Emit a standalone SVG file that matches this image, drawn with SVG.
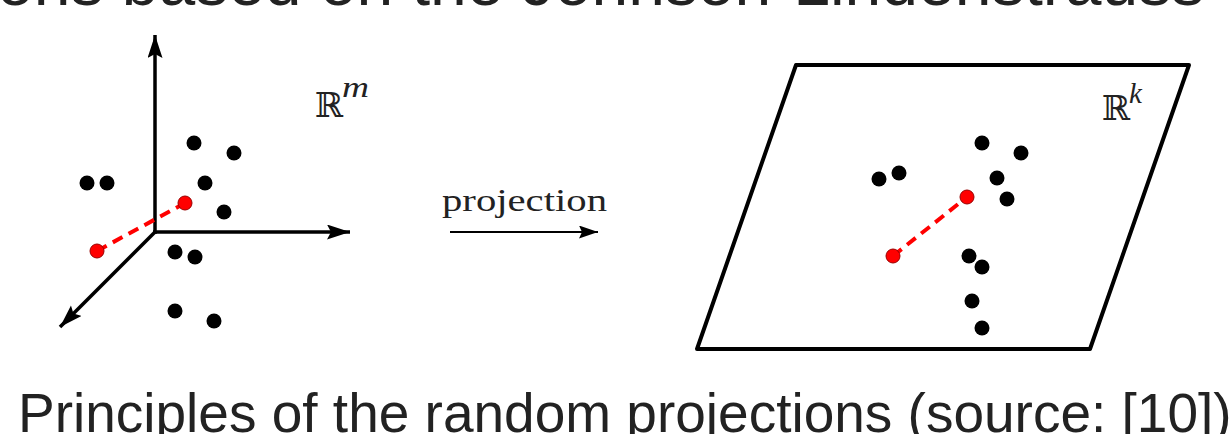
<svg xmlns="http://www.w3.org/2000/svg" width="1232" height="434" viewBox="0 0 1232 434">
  <style>
    .axis { stroke: #000; stroke-width: 3.5; fill: none; }
    .dot { fill: #000; }
    .red { fill: #f00; stroke: #900; stroke-width: 1; }
    .dash { stroke: #f00; stroke-width: 4; stroke-dasharray: 11 7; fill: none; }
    .bb { font-family: "DejaVu Serif", serif; fill: #222; }
    .sup { font-family: "Liberation Serif", "DejaVu Serif", serif; font-style: italic; fill: #222; }
    .caption { font-family: "Liberation Sans", Arial, sans-serif; fill: #222; }
  </style>
  <defs>
    <marker id="ah" markerUnits="userSpaceOnUse" markerWidth="24" markerHeight="16" refX="23" refY="7.5" orient="auto">
      <path d="M0,0 L23,7.5 L0,15 L4,7.5 z" fill="#000"/>
    </marker>
    <marker id="ahs" markerUnits="userSpaceOnUse" markerWidth="20" markerHeight="14" refX="19" refY="6.5" orient="auto">
      <path d="M0,0 L19,6.5 L0,13 L3,6.5 z" fill="#000"/>
    </marker>
  </defs>
  <rect width="1232" height="434" fill="#fff"/>

  <g id="title-fragment">
    <text class="caption" x="-3" y="5" font-size="66">ons based on the Johnson-Lindenstrauss</text>
  </g>

  <g id="space-m">
    <g id="axes-m">
      <line class="axis" x1="155" y1="234" x2="155" y2="35" marker-end="url(#ah)"/>
      <line class="axis" x1="153" y1="232" x2="350" y2="232" marker-end="url(#ah)"/>
      <line class="axis" x1="156" y1="231" x2="60" y2="327" marker-end="url(#ah)"/>
    </g>
    <line class="dash" x1="97" y1="251" x2="185" y2="203"/>
    <circle class="red" cx="97" cy="251" r="7"/>
    <circle class="red" cx="185" cy="203" r="7"/>
    <g id="points-m">
      <circle class="dot" cx="194" cy="143" r="7.5"/>
      <circle class="dot" cx="234" cy="153" r="7.5"/>
      <circle class="dot" cx="87" cy="183" r="7.5"/>
      <circle class="dot" cx="107" cy="183" r="7.5"/>
      <circle class="dot" cx="205" cy="183" r="7.5"/>
      <circle class="dot" cx="224" cy="212" r="7.5"/>
      <circle class="dot" cx="175" cy="252" r="7.5"/>
      <circle class="dot" cx="195" cy="257" r="7.5"/>
      <circle class="dot" cx="175" cy="311" r="7.5"/>
      <circle class="dot" cx="214" cy="321" r="7.5"/>
    </g>
    <text class="bb" x="315" y="117" font-size="34">ℝ</text>
    <text class="sup" x="342" y="97" font-size="30" textLength="27" lengthAdjust="spacingAndGlyphs">m</text>
  </g>

  <g id="projection">
    <text x="442" y="211" font-family="'Liberation Serif', 'DejaVu Serif', serif" font-size="32" fill="#222" textLength="165" lengthAdjust="spacingAndGlyphs">projection</text>
    <g id="connectors">
      <line x1="450" y1="232" x2="598" y2="232" stroke="#000" stroke-width="2" marker-end="url(#ahs)"/>
    </g>
  </g>

  <g id="space-k">
    <polygon points="796,65 1189,65 1090,349 697,349" fill="none" stroke="#000" stroke-width="4" stroke-linejoin="round"/>
    <line class="dash" x1="893" y1="256" x2="967" y2="197"/>
    <circle class="red" cx="893" cy="256" r="7"/>
    <circle class="red" cx="967" cy="197" r="7"/>
    <g id="points-k">
      <circle class="dot" cx="982" cy="143" r="7.5"/>
      <circle class="dot" cx="1021" cy="153" r="7.5"/>
      <circle class="dot" cx="879" cy="179" r="7.5"/>
      <circle class="dot" cx="899" cy="173" r="7.5"/>
      <circle class="dot" cx="997" cy="178" r="7.5"/>
      <circle class="dot" cx="1007" cy="199" r="7.5"/>
      <circle class="dot" cx="969" cy="256" r="7.5"/>
      <circle class="dot" cx="982" cy="267" r="7.5"/>
      <circle class="dot" cx="972" cy="301" r="7.5"/>
      <circle class="dot" cx="982" cy="328" r="7.5"/>
    </g>
    <text class="bb" x="1102" y="120" font-size="34">ℝ</text>
    <text class="sup" x="1129" y="103" font-size="29">k</text>
  </g>

  <g id="caption">
    <text class="caption" x="18" y="432" font-size="55">Principles of the random projections (source: [10])</text>
  </g>
</svg>
